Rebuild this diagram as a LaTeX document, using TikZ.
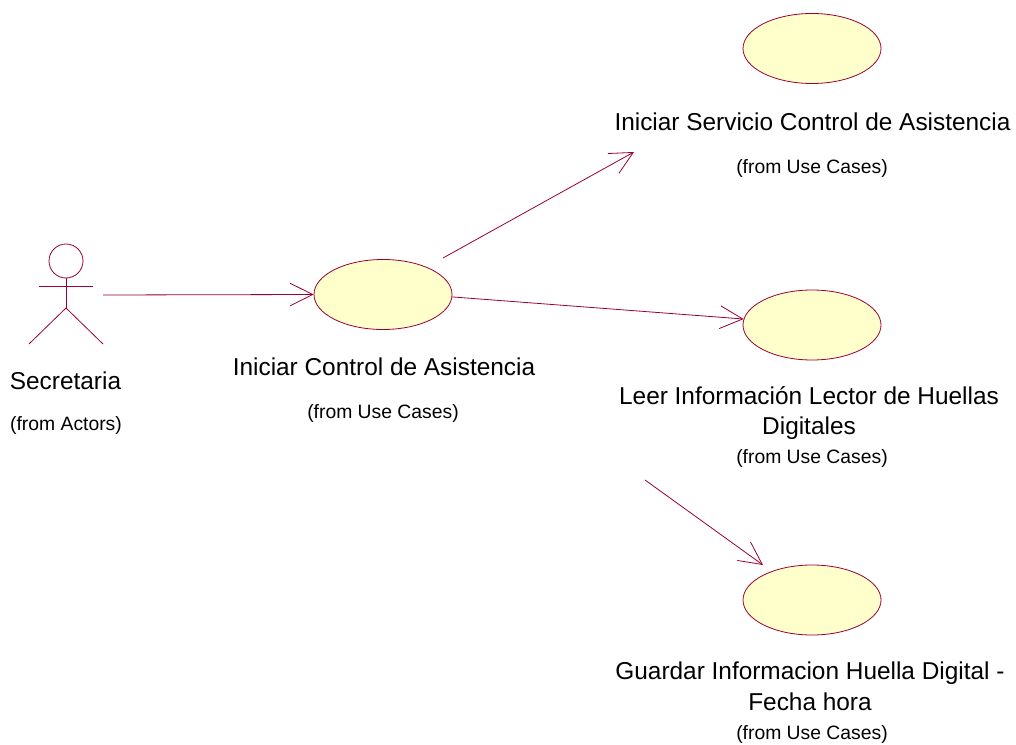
\documentclass[tikz,border=0pt]{standalone}
\usepackage{fontspec}
\setmainfont{Liberation Sans}
\usetikzlibrary{arrows.meta}
\usetikzlibrary{shapes.geometric}
\definecolor{umlline}{HTML}{990033}
\definecolor{umlfill}{HTML}{FFFFCC}
\tikzset{
    usecase/.style={ellipse, draw=umlline, fill=umlfill, line width=0.6pt, minimum width=103.5pt, minimum height=52.5pt, inner sep=0pt},
    namelabel/.style={font=\fontsize{18.3}{23}\selectfont, align=center, inner sep=0pt},
    fromlabel/.style={font=\fontsize{14.5}{18}\selectfont, inner sep=0pt},
    assoc/.style={umlline, line width=0.6pt, -{Straight Barb[length=17pt,width=17pt,line width=0.6pt]}}
}

\begin{document}
\begin{tikzpicture}[x=0.75pt,y=-0.75pt]
        \useasboundingbox (0,0) rectangle (1016,745);
        \draw[umlline, line width=0.6pt] (66,261) circle (12.75pt);
        \draw[umlline, line width=0.6pt] (66,278) -- (66,308);
        \draw[umlline, line width=0.6pt] (39,286) -- (93,286);
        \draw[umlline, line width=0.6pt] (29,344) -- (66,308) -- (103,344);
        \node[namelabel] (secretaria) at (65.5,380.5) {Secretaria};
        \node[fromlabel] (secretariafrom) at (66,425) {(from Actors)};
        \node[usecase] (iniciar) at (383,294.5) {};
        \node[namelabel] (iniciarname) at (384,366.5) {Iniciar Control de Asistencia};
        \node[fromlabel] (iniciarfrom) at (383,413) {(from Use Cases)};
        \node[usecase] (servicio) at (812,48.5) {};
        \node[namelabel] (servicioname) at (812.5,121.5) {Iniciar Servicio Control de Asistencia};
        \node[fromlabel] (serviciofrom) at (812,168) {(from Use Cases)};
        \node[usecase] (leer) at (812,325) {};
        \node[namelabel] (leername) at (809,413) {Leer Información Lector de Huellas\\Digitales};
        \node[fromlabel] (leerfrom) at (812,458) {(from Use Cases)};
        \node[usecase] (guardar) at (812,600) {};
        \node[namelabel] (guardarname) at (810,686.5) {Guardar Informacion Huella Digital -\\Fecha hora};
        \node[fromlabel] (guardarfrom) at (812,734) {(from Use Cases)};
        \coordinate (actorend) at (103,295);
        \coordinate (servicioend) at (634,152);
        \coordinate (iniciarend) at (443,258);
        \coordinate (guardarstart) at (645,480);
        \coordinate (guardarend) at (763,565);
        \draw[assoc] (actorend) -- (iniciar.west);
        \draw[assoc] (iniciarend) -- (servicioend);
        \draw[assoc] (iniciar.358) -- (leer.175);
        \draw[assoc] (guardarstart) -- (guardarend);
    \end{tikzpicture}
\end{document}
